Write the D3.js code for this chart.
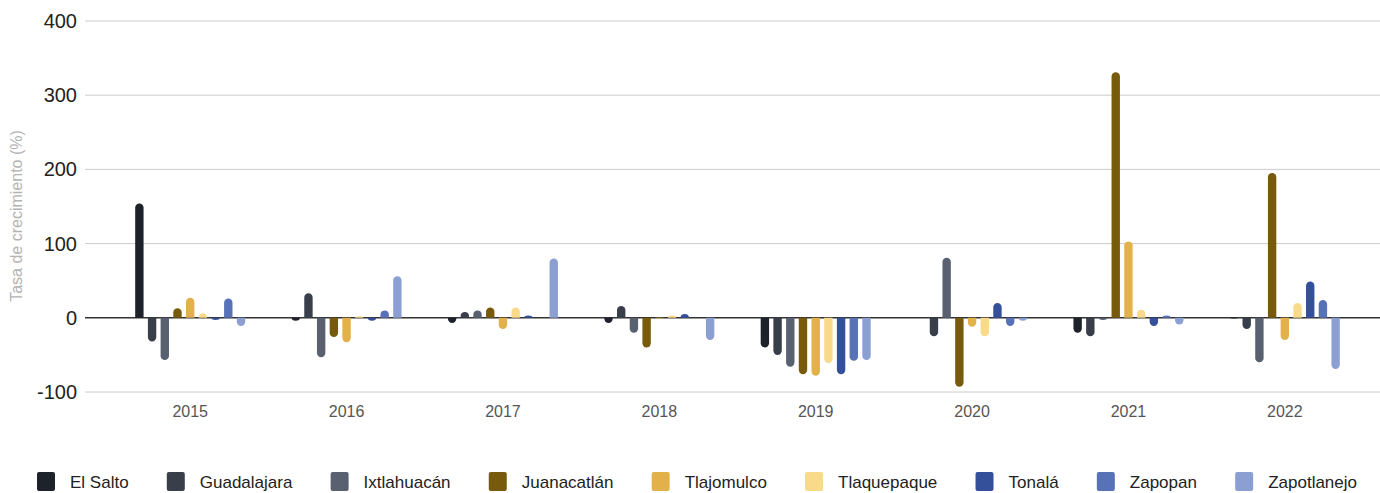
<!DOCTYPE html>
<html>
<head>
<meta charset="utf-8">
<script src="https://cdn.jsdelivr.net/npm/d3@7"></script>
<style>
  body { margin: 0; background: #fff; }
  svg { display: block; font-family: "Liberation Sans", Arial, sans-serif; }
</style>
</head>
<body>
<svg></svg>
<script>
const years = ['2015', '2016', '2017', '2018', '2019', '2020', '2021', '2022'];
const municipios = ['El Salto', 'Guadalajara', 'Ixtlahuacán', 'Juanacatlán', 'Tlajomulco',
	'Tlaquepaque', 'Tonalá', 'Zapopan', 'Zapotlanejo'];
const colores = ['#1e222b', '#383e4a', '#596070', '#785a0c', '#e2b14a',
	'#f9d98a', '#34509a', '#5872b8', '#8c9fd3'];

// one array per municipio, values by year (tasa de crecimiento %)
const elSalto     = [154, -4, -7, -7, -40, 0, -20, -1];
const guadalajara = [-32, 33, 8, 16, -50, -25, -25, -15];
const ixtlahuacan = [-57, -53, 10, -20, -66, 81, -3, -60];
const juanacatlan = [13, -26, 14, -40, -76, -93, 331, 195];
const tlajomulco  = [27, -33, -15, -1, -78, -12, 103, -30];
const tlaquepaque = [6, 2, 14, 3, -61, -25, 11, 20];
const tonala      = [-3, -4, 3, 5, -76, 20, -11, 49];
const zapopan     = [26, 10, 0, 0, -58, -11, 3, 24];
const zapotlanejo = [-11, 56, 80, -30, -57, -4, -9, -69];
const series = [elSalto, guadalajara, ixtlahuacan, juanacatlan, tlajomulco,
	tlaquepaque, tonala, zapopan, zapotlanejo];
const yTicks = [-100, 0, 100, 200, 300, 400];

const width = 1380;
const height = 493;

const svg = d3.select('svg')
	.attr('width', width)
	.attr('height', height);

const x0 = d3.scaleBand().domain(years).range([112, 1363]);
const x1 = d3.scaleBand().domain(municipios).range([-55, 55]).paddingInner(0.34);
const y = d3.scaleLinear().domain([-100, 400]).range([392, 21]);

// gridlines + y labels
svg.append('g')
	.selectAll('line')
	.data(yTicks)
	.enter().append('line')
		.attr('x1', 85)
		.attr('x2', 1380)
		.attr('y1', d => y(d))
		.attr('y2', d => y(d))
		.attr('stroke', d => d === 0 ? '#333' : '#ccc')
		.attr('stroke-width', d => d === 0 ? 1.4 : 1);

svg.append('g')
	.selectAll('text')
	.data(yTicks)
	.enter().append('text')
		.text(d => d)
		.attr('x', 77)
		.attr('y', d => y(d) + 7)
		.attr('text-anchor', 'end')
		.attr('font-size', 20)
		.attr('fill', '#222');

svg.append('text')
	.text('Tasa de crecimiento (%)')
	.attr('transform', 'translate(22,216) rotate(-90)')
	.attr('text-anchor', 'middle')
	.attr('font-size', 16)
	.attr('fill', '#b3b3b3');

// bars
const bars = [];
series.forEach((vals, i) => {
	vals.forEach((v, j) => {
		bars.push({muni: municipios[i], year: years[j], value: v, color: colores[i]});
	});
});

const bw = x1.bandwidth();
const r = bw / 2;
function barPath(d) {
	const xl = x0(d.year) + x0.bandwidth() / 2 + x1(d.muni);
	const y0 = y(0);
	const yv = y(d.value);
	const h = Math.abs(y0 - yv);
	if (h < 0.5) return '';
	const rr = Math.min(r, h);
	if (d.value > 0) {
		return `M${xl},${y0}V${yv + rr}A${r},${rr} 0 0 1 ${xl + bw},${yv + rr}V${y0}Z`;
	} else {
		return `M${xl},${y0}V${yv - rr}A${r},${rr} 0 0 0 ${xl + bw},${yv - rr}V${y0}Z`;
	}
}

svg.append('g')
	.selectAll('path')
	.data(bars)
	.enter().append('path')
		.attr('d', barPath)
		.attr('fill', d => d.color);

// year labels
svg.append('g')
	.selectAll('text')
	.data(years)
	.enter().append('text')
		.text(d => d)
		.attr('x', d => x0(d) + x0.bandwidth() / 2)
		.attr('y', 417)
		.attr('text-anchor', 'middle')
		.attr('font-size', 16)
		.attr('fill', '#555');

// legend: spread so it spans from x=37 to about x=1357
const legend = svg.append('g');
const labels = municipios.map((m, i) => legend.append('text')
	.text(m)
	.attr('y', 488)
	.attr('font-size', 17)
	.attr('fill', '#222'));
const widths = labels.map(t => t.node().getComputedTextLength());
const sq2text = 33;
const gap = (1357 - 37 - 9 * sq2text - d3.sum(widths)) / 8;
let lx = 37;
municipios.forEach((m, i) => {
	legend.append('rect')
		.attr('x', lx)
		.attr('y', 472)
		.attr('width', 18)
		.attr('height', 19)
		.attr('rx', 2)
		.attr('fill', colores[i]);
	labels[i].attr('x', lx + sq2text);
	lx += sq2text + widths[i] + gap;
});
</script>
</body>
</html>
